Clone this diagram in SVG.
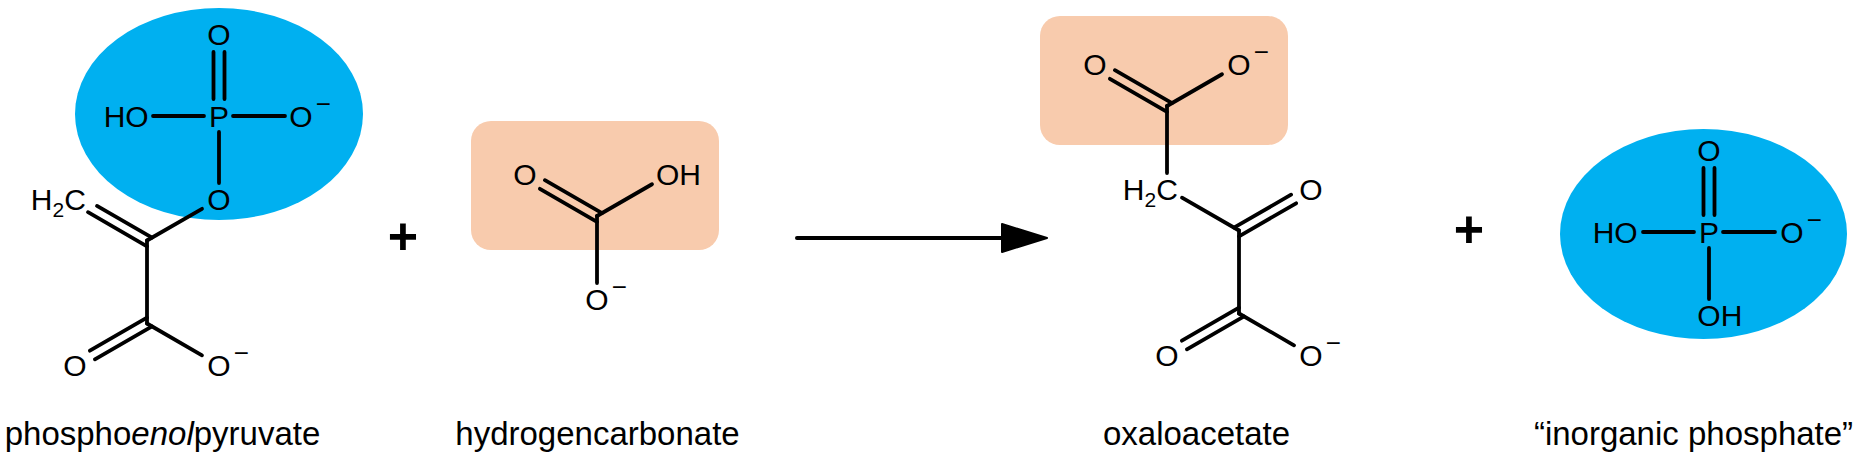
<svg xmlns="http://www.w3.org/2000/svg" width="1862" height="459" viewBox="0 0 1862 459">
<defs>
<style>
.bond{stroke:#000;stroke-width:3.8;stroke-linecap:round;fill:none}
.atom{font-family:"Liberation Sans",Arial,sans-serif;font-size:30px;fill:#000}
.mid{text-anchor:middle}
.end{text-anchor:end}
.sub{font-size:21px}
.chg{font-size:26px}
.label{font-family:"Liberation Sans",Arial,sans-serif;font-size:33px;fill:#000;text-anchor:middle}
.blob{fill:#00B0F0}
.box{fill:#F8CBAD}
.plus{font-family:"Liberation Sans",Arial,sans-serif;font-size:52px;font-weight:bold;text-anchor:middle;fill:#000}
.arrow{stroke:#000;stroke-width:4;stroke-linecap:round;fill:none}
</style>
<marker id="ah" markerUnits="userSpaceOnUse" markerWidth="50" markerHeight="34" viewBox="0 0 50 34" refX="2" refY="17" orient="auto">
<path d="M2,3 L47,17 L2,31 Z" fill="#000" stroke="#000" stroke-width="2" stroke-linejoin="round"/>
</marker>
</defs>
<rect width="1862" height="459" fill="#fff"/>

<g id="pep">
<ellipse class="blob" cx="219" cy="114" rx="144" ry="106"/>
<g class="bond">
<line x1="153" y1="116" x2="204" y2="116"/>
<line x1="233" y1="116" x2="285" y2="116"/>
<line x1="213.5" y1="52" x2="213.5" y2="99"/>
<line x1="224.5" y1="52" x2="224.5" y2="99"/>
<line x1="219" y1="132" x2="219" y2="183"/>
<line x1="202" y1="208.8" x2="147" y2="240.5"/>
<line x1="152" y1="237.6" x2="97" y2="205.9"/>
<line x1="147" y1="246.3" x2="88" y2="212.2"/>
<line x1="147" y1="240.5" x2="147" y2="323.5"/>
<line x1="147" y1="317.7" x2="89.9" y2="350.7"/>
<line x1="152" y1="326.4" x2="94.9" y2="359.3"/>
<line x1="147" y1="323.5" x2="202" y2="355.3"/>
</g>
<text class="atom mid" x="219" y="44.75">O</text>
<text class="atom mid" x="219" y="126.75">P</text>
<text class="atom end" x="148.67" y="126.75">HO</text>
<text class="atom" x="289.33" y="126.75">O<tspan class="chg" dx="3.2" dy="-14">−</tspan></text>
<text class="atom mid" x="219" y="209.75">O</text>
<text class="atom end" x="85.9" y="209.75">H<tspan class="sub" dy="7">2</tspan><tspan dy="-7">C</tspan></text>
<text class="atom mid" x="75" y="375.75">O</text>
<text class="atom" x="207.33" y="375.75">O<tspan class="chg" dx="3.2" dy="-14">−</tspan></text>
<text class="label" x="162.5" y="445">phospho<tspan font-style="italic">enol</tspan>pyruvate</text>
</g>

<g id="plus1">
<text class="plus" x="403" y="253.5">+</text>
</g>

<g id="bicarbonate">
<rect class="box" x="471" y="121" width="248" height="129" rx="20" ry="20"/>
<g class="bond">
<line x1="602" y1="213.1" x2="544.9" y2="180.2"/>
<line x1="597" y1="221.8" x2="539.9" y2="188.8"/>
<line x1="597" y1="216" x2="652" y2="184.25"/>
<line x1="597" y1="216" x2="597" y2="283"/>
</g>
<text class="atom mid" x="525" y="185.25">O</text>
<text class="atom" x="656" y="185.25">OH</text>
<text class="atom" x="585.33" y="309.75">O<tspan class="chg" dx="3.2" dy="-14">−</tspan></text>
<text class="label" x="597.5" y="445">hydrogencarbonate</text>
</g>

<g id="connectors">
<line class="arrow" x1="797" y1="238" x2="1002" y2="238" marker-end="url(#ah)"/>
</g>

<g id="oxaloacetate">
<rect class="box" x="1040" y="16" width="248" height="129" rx="20" ry="20"/>
<g class="bond">
<line x1="1172" y1="103.1" x2="1114.9" y2="70.2"/>
<line x1="1167" y1="111.8" x2="1109.9" y2="78.8"/>
<line x1="1167" y1="106" x2="1222" y2="74.25"/>
<line x1="1167" y1="106" x2="1167" y2="173"/>
<line x1="1182" y1="197.7" x2="1239" y2="230.5"/>
<line x1="1234" y1="227.6" x2="1291.1" y2="194.7"/>
<line x1="1239" y1="236.3" x2="1296.1" y2="203.3"/>
<line x1="1239" y1="230.5" x2="1239" y2="313.5"/>
<line x1="1239" y1="307.7" x2="1181.9" y2="340.7"/>
<line x1="1244" y1="316.4" x2="1186.9" y2="349.3"/>
<line x1="1239" y1="313.5" x2="1294" y2="345.3"/>
</g>
<text class="atom mid" x="1095" y="75.25">O</text>
<text class="atom" x="1227.33" y="75.25">O<tspan class="chg" dx="3.2" dy="-14">−</tspan></text>
<text class="atom end" x="1177.8" y="199.75">H<tspan class="sub" dy="7">2</tspan><tspan dy="-7">C</tspan></text>
<text class="atom mid" x="1311" y="199.75">O</text>
<text class="atom mid" x="1167" y="365.75">O</text>
<text class="atom" x="1299.33" y="365.75">O<tspan class="chg" dx="3.2" dy="-14">−</tspan></text>
<text class="label" x="1196.5" y="445">oxaloacetate</text>
</g>

<g id="plus2">
<text class="plus" x="1469" y="246.5">+</text>
</g>

<g id="phosphate">
<ellipse class="blob" cx="1703.5" cy="234" rx="143.5" ry="105"/>
<g class="bond">
<line x1="1643" y1="232" x2="1694" y2="232"/>
<line x1="1723" y1="232" x2="1775" y2="232"/>
<line x1="1703.5" y1="168" x2="1703.5" y2="215"/>
<line x1="1714.5" y1="168" x2="1714.5" y2="215"/>
<line x1="1709" y1="248" x2="1709" y2="299"/>
</g>
<text class="atom mid" x="1709" y="160.75">O</text>
<text class="atom mid" x="1709" y="242.75">P</text>
<text class="atom end" x="1637.67" y="242.75">HO</text>
<text class="atom" x="1780.33" y="242.75">O<tspan class="chg" dx="3.2" dy="-14">−</tspan></text>
<text class="atom" x="1697.33" y="325.75">OH</text>
<text class="label" x="1693.5" y="445">“inorganic phosphate”</text>
</g>
</svg>
